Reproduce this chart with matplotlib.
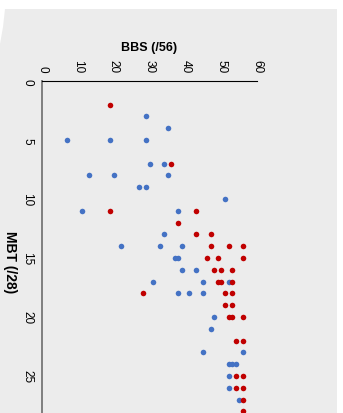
import matplotlib
matplotlib.use("Agg")
import matplotlib.pyplot as plt
from matplotlib.patches import Rectangle, Polygon

plt.rcParams["font.family"] = ["Liberation Sans", "DejaVu Sans"]

# BBS score (x) and MBT score (y) per child, two groups
blue_bbs = [29, 35, 7, 19, 29, 30, 34, 13, 20, 35, 27, 29, 51, 11, 38, 34, 22, 33, 39,
            37, 38, 39, 43, 31, 45, 52, 38, 41, 45, 48, 47, 45, 56, 52, 53, 54, 52, 52, 55]
blue_mbt = [3, 4, 5, 5, 5, 7, 7, 8, 8, 8, 9, 9, 10, 11, 11, 13, 14, 14, 14,
            15, 15, 16, 16, 17, 17, 17, 18, 18, 18, 20, 21, 23, 23, 24, 24, 24, 25, 26, 27]

red_bbs = [19, 36, 19, 43, 38, 43, 47, 47, 52, 56, 46, 49, 56, 48, 50, 53, 49, 50, 53,
           28, 51, 53, 51, 53, 52, 53, 56, 54, 56, 54, 56, 54, 56, 56, 56]
red_mbt = [2, 7, 11, 11, 12, 13, 13, 14, 14, 14, 15, 15, 15, 16, 16, 16, 17, 17, 17,
           18, 18, 18, 19, 19, 20, 20, 20, 22, 22, 25, 25, 26, 26, 27, 28]

x_ticks = [0, 10, 20, 30, 40, 50, 60]
y_ticks = [0, 5, 10, 15, 20, 25]

W, H = 343, 414
fig = plt.figure(figsize=(W / 100, H / 100), dpi=100)
fig.patch.set_facecolor("white")

# grey page behind the chart, with the white corner at top left
bg = "#ececec"
fig.patches.append(Rectangle((0, 0), 337 / W, 1 - 10 / H, transform=fig.transFigure,
                             facecolor=bg, edgecolor="none", zorder=-2))
fig.patches.append(Polygon([(0, 1 - 10 / H), (5 / W, 1 - 10 / H), (3 / W, 1 - 28 / H),
                            (0, 1 - 45 / H)], closed=True, transform=fig.transFigure,
                           facecolor="white", edgecolor="none", zorder=-1))

# axes: x from 0..60 at px 42..257, y 0 at px 82 with 11.8 px per unit
left, right = 42.2, 257.2
top = 82
ymax = 30
bottom = top + 11.8 * ymax
ax = fig.add_axes([left / W, 1 - bottom / H, (right - left) / W, (bottom - top) / H])
ax.set_facecolor("none")
ax.set_zorder(5)

ax.scatter(blue_bbs, blue_mbt, s=16, color="#4472C4", linewidths=0, zorder=3)
ax.scatter(red_bbs, red_mbt, s=16, color="#C00000", linewidths=0, zorder=3)

ax.set_xlim(0, 60)
ax.set_ylim(ymax, 0)
ax.xaxis.tick_top()
ax.set_xticks(x_ticks)
ax.set_yticks(y_ticks)
ax.tick_params(axis="x", length=0, pad=6.5, labelsize=8.5, labelrotation=-90)
ax.tick_params(axis="y", length=0, pad=6.5, labelsize=8.5, labelrotation=-90)
for lab in ax.get_yticklabels():
    lab.set_verticalalignment("center")

for s in ["right", "bottom"]:
    ax.spines[s].set_visible(False)
ax.spines["top"].set_color("black")
ax.spines["top"].set_linewidth(0.8)
ax.spines["left"].set_color("#7f7f7f")
ax.spines["left"].set_linewidth(1.4)

fig.text(149 / W, 1 - 48 / H, "BBS (/56)", ha="center", va="center",
         fontsize=9, fontweight="bold", zorder=6)
fig.text(10 / W, 1 - 262 / H, "MBT (/28)", ha="center", va="center",
         fontsize=10, fontweight="bold", rotation=-90, zorder=6)

fig.savefig("out.png", dpi=100, facecolor=fig.get_facecolor())
